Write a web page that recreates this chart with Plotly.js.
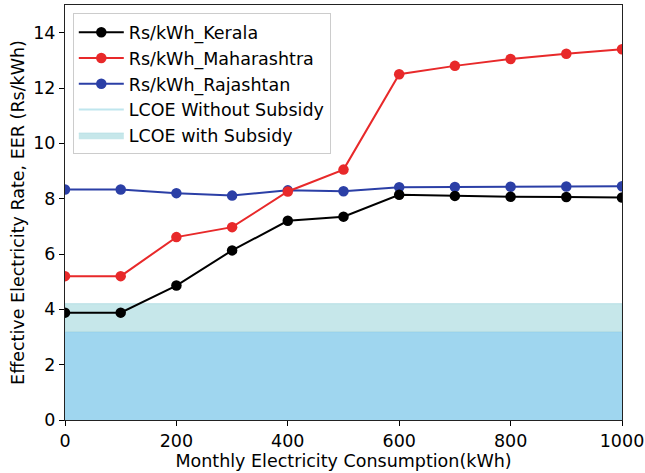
<!DOCTYPE html>
<html>
<head>
<meta charset="utf-8">
<script src="https://cdn.plot.ly/plotly-3.0.1.min.js"></script>
<style>html,body{margin:0;padding:0;background:#fff;}#chart{width:645px;height:473px;}</style>
</head>
<body>
<div id="chart"></div>
<script>
var consumption = [0, 100, 200, 300, 400, 500, 600, 700, 800, 900, 1000];
var kerala = [3.88, 3.88, 4.86, 6.13, 7.2, 7.35, 8.14, 8.1, 8.07, 8.06, 8.04];
var maharashtra = [5.2, 5.2, 6.61, 6.97, 8.26, 9.05, 12.5, 12.8, 13.05, 13.24, 13.4];
var rajasthan = [8.33, 8.33, 8.2, 8.11, 8.3, 8.27, 8.41, 8.42, 8.43, 8.44, 8.45];
var lcoeWithoutSubsidy = 3.2;
var lcoeWithSubsidy = 4.2;
var xRange = [0, 1000];
var xTicks = [0, 200, 400, 600, 800, 1000];
var yTicks = [0, 2, 4, 6, 8, 10, 12, 14];

var font = 'DejaVu Sans, sans-serif';
var fs = 17.5;

var traces = [
  {
    x: xRange, y: [lcoeWithoutSubsidy, lcoeWithoutSubsidy],
    mode: 'lines', fill: 'tozeroy', fillcolor: '#9fd6ef',
    line: {color: '#86c9ec', width: 1.5},
    name: 'LCOE Without Subsidy', legendrank: 4, legendgroup: 'g4', showlegend: false, hoverinfo: 'skip'
  },
  {
    x: [xRange[0], xRange[1], xRange[1], xRange[0], xRange[0]],
    y: [lcoeWithoutSubsidy, lcoeWithoutSubsidy, lcoeWithSubsidy, lcoeWithSubsidy, lcoeWithoutSubsidy],
    mode: 'lines', fill: 'toself', fillcolor: '#c6e7ea',
    line: {color: '#b6dfe4', width: 1},
    name: 'LCOE with Subsidy', legendrank: 5, legendgroup: 'g5', showlegend: true, hoverinfo: 'skip'
  },
  {
    x: [null], y: [null], mode: 'lines',
    line: {color: '#bfe6ee', width: 2},
    name: 'LCOE Without Subsidy', legendrank: 4, legendgroup: 'g4', showlegend: true
  },
  {
    x: consumption, y: rajasthan, mode: 'lines+markers', name: 'Rs/kWh_Rajashtan',
    line: {color: '#2b3fa6', width: 2}, marker: {color: '#2b3fa6', size: 10.5},
    legendrank: 3, legendgroup: 'g3'
  },
  {
    x: consumption, y: maharashtra, mode: 'lines+markers', name: 'Rs/kWh_Maharashtra',
    line: {color: '#e8292a', width: 2}, marker: {color: '#e8292a', size: 10.5},
    legendrank: 2, legendgroup: 'g2'
  },
  {
    x: consumption, y: kerala, mode: 'lines+markers', name: 'Rs/kWh_Kerala',
    line: {color: '#000000', width: 2}, marker: {color: '#000000', size: 10.5},
    legendrank: 1, legendgroup: 'g1'
  }
];

var layout = {
  width: 645, height: 473,
  margin: {l: 65, r: 23, t: 5, b: 53},
  paper_bgcolor: '#ffffff', plot_bgcolor: '#ffffff',
  font: {family: font, size: fs, color: '#000'},
  showlegend: true,
  legend: {
    x: 0.014, y: 0.98, xanchor: 'left', yanchor: 'top',
    bgcolor: 'rgba(255,255,255,0.85)', bordercolor: '#cccccc', borderwidth: 1,
    font: {family: font, size: fs, color: '#000'},
    traceorder: 'grouped', tracegroupgap: 0, itemwidth: 45
  },
  xaxis: {
    range: [0, 1000], tickvals: xTicks, ticks: 'outside', ticklen: 5, tickcolor: '#000',
    showline: true, linecolor: '#222', linewidth: 1, mirror: true, showgrid: false, zeroline: false,
    tickfont: {family: font, size: fs},
    title: {text: 'Monthly Electricity Consumption(kWh)', font: {family: font, size: fs}, standoff: 2}
  },
  yaxis: {
    range: [0, 15], tickvals: yTicks, ticks: 'outside', ticklen: 5, tickcolor: '#000',
    showline: true, linecolor: '#222', linewidth: 1, mirror: true, showgrid: false, zeroline: false,
    tickfont: {family: font, size: fs},
    title: {text: 'Effective Electricity Rate, EER (Rs/kWh)', font: {family: font, size: fs}, standoff: 4}
  }
};

Plotly.newPlot('chart', traces, layout, {displayModeBar: false, staticPlot: true});
</script>
</body>
</html>
